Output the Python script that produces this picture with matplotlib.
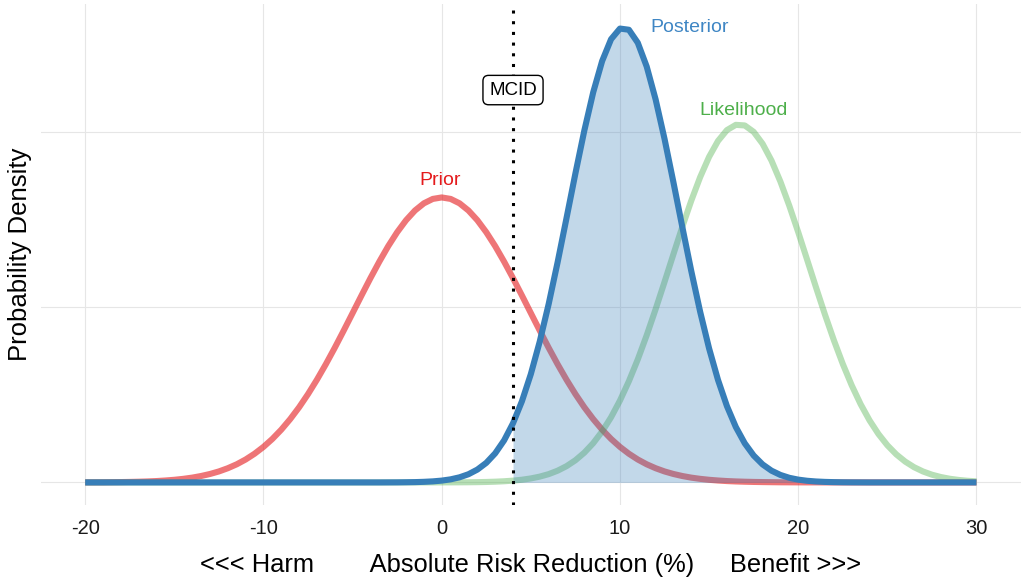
import matplotlib
matplotlib.use('Agg')
import matplotlib.pyplot as plt
import numpy as np

plt.rcParams['font.family'] = ['Liberation Sans', 'DejaVu Sans']

# x grid (absolute risk reduction, %)
x_arr = [
    -20.0, -19.5, -19.0, -18.5, -18.0, -17.5, -17.0, -16.5, -16.0, -15.5,
    -15.0, -14.5, -14.0, -13.5, -13.0, -12.5, -12.0, -11.5, -11.0, -10.5,
    -10.0, -9.5, -9.0, -8.5, -8.0, -7.5, -7.0, -6.5, -6.0, -5.5,
    -5.0, -4.5, -4.0, -3.5, -3.0, -2.5, -2.0, -1.5, -1.0, -0.5,
    0.0, 0.5, 1.0, 1.5, 2.0, 2.5, 3.0, 3.5, 4.0, 4.5,
    5.0, 5.5, 6.0, 6.5, 7.0, 7.5, 8.0, 8.5, 9.0, 9.5,
    10.0, 10.5, 11.0, 11.5, 12.0, 12.5, 13.0, 13.5, 14.0, 14.5,
    15.0, 15.5, 16.0, 16.5, 17.0, 17.5, 18.0, 18.5, 19.0, 19.5,
    20.0, 20.5, 21.0, 21.5, 22.0, 22.5, 23.0, 23.5, 24.0, 24.5,
    25.0, 25.5, 26.0, 26.5, 27.0, 27.5, 28.0, 28.5, 29.0, 29.5,
    30.0,
]

prior = [
    0.00002, 0.00003, 0.00004, 0.00007, 0.00010, 0.00014, 0.00020, 0.00028, 0.00039, 0.00055,
    0.00075, 0.00102, 0.00137, 0.00183, 0.00241, 0.00314, 0.00406, 0.00518, 0.00655, 0.00820,
    0.01015, 0.01243, 0.01507, 0.01809, 0.02147, 0.02524, 0.02935, 0.03378, 0.03847, 0.04337,
    0.04838, 0.05341, 0.05835, 0.06308, 0.06751, 0.07148, 0.07491, 0.07769, 0.07974, 0.08100,
    0.08142, 0.08100, 0.07974, 0.07769, 0.07491, 0.07148, 0.06751, 0.06308, 0.05835, 0.05341,
    0.04838, 0.04337, 0.03847, 0.03378, 0.02935, 0.02524, 0.02147, 0.01809, 0.01507, 0.01243,
    0.01015, 0.00820, 0.00655, 0.00518, 0.00406, 0.00314, 0.00241, 0.00183, 0.00137, 0.00102,
    0.00075, 0.00055, 0.00039, 0.00028, 0.00020, 0.00014, 0.00010, 0.00007, 0.00004, 0.00003,
    0.00002, 0.00001, 0.00001, 0.0, 0.0, 0.0, 0.0, 0.0, 0.0, 0.0,
    0.0, 0.0, 0.0, 0.0, 0.0, 0.0, 0.0, 0.0, 0.0, 0.0,
    0.0,
]

likelihood = [
    0.0, 0.0, 0.0, 0.0, 0.0, 0.0, 0.0, 0.0, 0.0, 0.0,
    0.0, 0.0, 0.0, 0.0, 0.0, 0.0, 0.0, 0.0, 0.0, 0.0,
    0.0, 0.0, 0.0, 0.0, 0.0, 0.0, 0.0, 0.0, 0.0, 0.0,
    0.0, 0.0, 0.0, 0.0, 0.0, 0.0, 0.0, 0.0, 0.0, 0.00001,
    0.00001, 0.00002, 0.00003, 0.00005, 0.00008, 0.00013, 0.00021, 0.00033, 0.00051, 0.00077,
    0.00114, 0.00166, 0.00237, 0.00335, 0.00464, 0.00633, 0.00850, 0.01122, 0.01457, 0.01861,
    0.02339, 0.02891, 0.03515, 0.04205, 0.04949, 0.05728, 0.06522, 0.07306, 0.08049, 0.08724,
    0.09302, 0.09756, 0.10066, 0.10216, 0.10199, 0.10016, 0.09676, 0.09196, 0.08596, 0.07905,
    0.07151, 0.06363, 0.05570, 0.04796, 0.04063, 0.03385, 0.02775, 0.02237, 0.01774, 0.01384,
    0.01062, 0.00802, 0.00596, 0.00435, 0.00313, 0.00221, 0.00154, 0.00105, 0.00071, 0.00047,
    0.00031,
]

posterior = [
    0.0, 0.0, 0.0, 0.0, 0.0, 0.0, 0.0, 0.0, 0.0, 0.0,
    0.0, 0.0, 0.0, 0.0, 0.0, 0.0, 0.0, 0.0, 0.0, 0.0,
    0.0, 0.0, 0.0, 0.0, 0.0, 0.0, 0.0, 0.0, 0.0, 0.0,
    0.0, 0.0, 0.0, 0.0, 0.00001, 0.00002, 0.00005, 0.00009, 0.00017, 0.00030,
    0.00052, 0.00088, 0.00146, 0.00234, 0.00367, 0.00559, 0.00831, 0.01201, 0.01691, 0.02319,
    0.03096, 0.04026, 0.05097, 0.06286, 0.07549, 0.08827, 0.10052, 0.11148, 0.12039, 0.12662,
    0.12967, 0.12933, 0.12561, 0.11881, 0.10943, 0.09815, 0.08573, 0.07293, 0.06041, 0.04873,
    0.03828, 0.02928, 0.02181, 0.01583, 0.01118, 0.00769, 0.00515, 0.00336, 0.00214, 0.00132,
    0.00080, 0.00047, 0.00027, 0.00015, 0.00008, 0.00004, 0.00002, 0.00001, 0.0, 0.0,
    0.0, 0.0, 0.0, 0.0, 0.0, 0.0, 0.0, 0.0, 0.0, 0.0,
    0.0,
]

mcid = 4
x_ticks = [-20, -10, 0, 10, 20, 30]
y_grid = [0, 0.05, 0.10]

# label positions (data units)
labels = ['Prior', 'Likelihood', 'Posterior']
label_x = [-0.1, 16.95, 13.9]
label_y = [0.0862, 0.1064, 0.1299]
label_colors = ['#E41A1C', '#4DAF4A', '#3F86C4']

x = np.array(x_arr)
post = np.array(posterior)

fig = plt.figure(figsize=(10.24, 5.82), dpi=100)
ax = fig.add_axes([0.0397, 0.132, 0.9574, 0.8618])

ax.plot(x, prior, color='#E41A1C', alpha=0.6, lw=4.4, solid_capstyle='butt', solid_joinstyle='round', zorder=2)
ax.plot(x, likelihood, color='#4DAF4A', alpha=0.4, lw=4.4, solid_capstyle='butt', solid_joinstyle='round', zorder=2)
ax.fill_between(x, 0, post, where=x >= mcid, color='#377EB8', alpha=0.3, lw=0, zorder=3)
ax.plot(x, post, color='#377EB8', lw=4.4, solid_capstyle='butt', solid_joinstyle='round', zorder=4)

ax.axvline(mcid, color='black', lw=2.2, dashes=(1, 2.5), zorder=5)
ax.text(mcid, 0.1121, 'MCID', ha='center', va='center', fontsize=13.5, zorder=6,
        bbox=dict(boxstyle='round,pad=0.33,rounding_size=0.3', fc='white', ec='black', lw=1))

for lab, lx, ly, lc in zip(labels, label_x, label_y, label_colors):
    ax.text(lx, ly, lab, ha='center', va='center', fontsize=14, color=lc, zorder=6)

ax.set_xlim(-22.5, 32.5)
ax.set_ylim(-0.0065, 0.1368)
ax.set_xticks(x_ticks)
ax.set_xticklabels([str(t) for t in x_ticks])
ax.set_yticks(y_grid)
ax.set_yticklabels([])
ax.tick_params(length=0)
ax.tick_params(axis='x', pad=10, labelsize=14.5, labelcolor='#1a1a1a')
ax.grid(True, color='#e6e6e6', lw=0.8)
ax.set_axisbelow(True)
for s in ax.spines.values():
    s.set_visible(False)

ax.set_xlabel('<<< Harm        Absolute Risk Reduction (%)     Benefit >>>', fontsize=18.4, labelpad=11)
ax.set_ylabel('Probability Density', fontsize=18.5, labelpad=3)

fig.savefig('out.png', dpi=100)
